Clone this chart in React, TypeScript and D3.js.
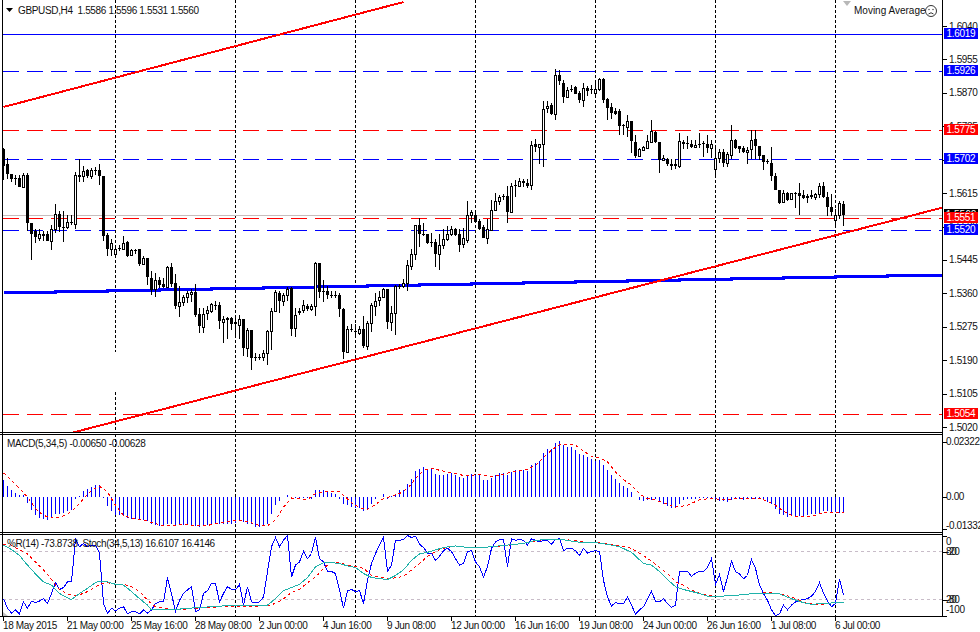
import React from "react";
import * as d3 from "d3";

// Prices are given in 1/10000 units
const opens = [15726,15688,15664,15654,15654,15630,15662,15540,15518,15501,
15511,15512,15493,15523,15563,15530,15528,15542,15536,15658,
15658,15673,15658,15674,15674,15658,15509,15472,15459,15476,
15474,15491,15458,15470,15472,15434,15449,15400,15370,15395,
15383,15376,15428,15387,15328,15338,15350,15359,15364,15308,
15274,15310,15316,15331,15331,15287,15296,15296,15287,15280,
15294,15221,15266,15197,15197,15197,15209,15265,15315,15362,
15340,15356,15374,15272,15315,15317,15328,15320,15328,15436,
15367,15367,15356,15356,15355,15321,15210,15270,15263,15260,
15270,15227,15285,15327,15343,15351,15370,15287,15311,15378,
15378,15386,15429,15460,15533,15512,15510,15491,15490,15460,
15483,15497,15511,15523,15510,15485,15496,15560,15560,15543,
15529,15502,15521,15572,15595,15607,15607,15568,15636,15633,
15646,15641,15636,15739,15733,15740,15831,15838,15816,15916,
15896,15859,15881,15884,15869,15852,15883,15880,15869,15881,
15904,15855,15833,15823,15823,15787,15784,15798,15746,15709,
15725,15730,15746,15770,15745,15700,15702,15690,15688,15685,
15746,15743,15740,15732,15741,15743,15739,15729,15676,15703,
15720,15692,15713,15751,15735,15729,15719,15726,15753,15736,
15713,15696,15692,15659,15624,15593,15616,15599,15616,15616,
15609,15607,15609,15604,15612,15634,15606,15580,15546,15558,15586];
const highs = [15729,15705,15664,15660,15662,15667,15667,15540,15523,15523,
15518,15518,15535,15586,15569,15569,15558,15558,15668,15701,
15684,15677,15679,15681,15688,15658,15514,15497,15480,15482,
15506,15493,15472,15473,15473,15456,15451,15417,15412,15401,
15400,15429,15436,15408,15378,15357,15366,15372,15385,15323,
15323,15329,15336,15340,15338,15302,15300,15300,15304,15304,
15295,15272,15266,15207,15205,15217,15267,15323,15368,15366,
15361,15377,15376,15323,15323,15343,15332,15334,15440,15438,
15395,15378,15366,15366,15361,15323,15277,15281,15281,15277,
15302,15289,15336,15361,15366,15374,15372,15327,15380,15385,
15397,15444,15472,15535,15551,15538,15510,15514,15497,15512,
15523,15531,15531,15527,15524,15527,15596,15572,15572,15548,
15535,15550,15597,15614,15609,15612,15633,15640,15648,15654,
15650,15650,15748,15753,15741,15848,15849,15845,15930,15928,
15902,15885,15891,15887,15874,15894,15887,15891,15894,15908,
15908,15857,15843,15832,15828,15790,15813,15798,15764,15730,
15736,15762,15802,15773,15745,15711,15705,15701,15701,15768,
15751,15760,15749,15751,15767,15748,15762,15749,15730,15726,
15726,15719,15787,15753,15736,15735,15733,15775,15775,15736,
15713,15702,15733,15667,15624,15623,15618,15616,15618,15640,
15623,15612,15624,15616,15640,15643,15618,15612,15575,15595,15596];
const lows = [15648,15651,15643,15635,15630,15629,15518,15445,15487,15493,
15493,15492,15470,15514,15516,15490,15524,15535,15524,15643,
15643,15654,15652,15660,15635,15493,15456,15456,15455,15467,
15470,15453,15456,15459,15429,15431,15380,15357,15351,15374,
15374,15374,15377,15319,15300,15328,15336,15338,15300,15260,
15258,15291,15311,15317,15270,15233,15243,15268,15253,15244,
15200,15197,15166,15189,15190,15187,15177,15216,15312,15311,
15328,15340,15251,15250,15306,15309,15315,15315,15302,15349,
15338,15345,15349,15349,15299,15192,15209,15261,15247,15255,
15221,15217,15261,15302,15329,15349,15270,15264,15253,15370,
15374,15366,15419,15445,15478,15506,15486,15478,15428,15419,
15472,15493,15506,15506,15465,15476,15487,15540,15540,15522,
15500,15486,15518,15572,15584,15597,15538,15565,15606,15631,
15631,15629,15623,15719,15690,15681,15818,15813,15802,15889,
15843,15859,15872,15866,15843,15834,15863,15866,15862,15874,
15845,15802,15804,15813,15764,15762,15758,15718,15705,15707,
15724,15728,15743,15743,15665,15696,15685,15673,15677,15679,
15728,15726,15730,15730,15730,15707,15718,15705,15657,15692,
15682,15682,15701,15726,15716,15716,15690,15701,15702,15699,
15673,15690,15645,15623,15586,15590,15595,15597,15578,15560,
15600,15589,15599,15597,15603,15603,15556,15556,15533,15548,15531];
const closes = [15684,15664,15650,15651,15631,15662,15538,15512,15503,15512,
15512,15493,15524,15562,15530,15527,15542,15539,15662,15660,
15672,15658,15673,15671,15658,15507,15472,15489,15473,15473,
15489,15456,15470,15467,15434,15451,15401,15368,15394,15380,
15376,15428,15385,15328,15339,15351,15360,15364,15306,15277,
15308,15317,15332,15328,15289,15294,15293,15283,15282,15294,
15221,15266,15195,15195,15195,15209,15263,15316,15363,15340,
15356,15372,15270,15304,15311,15331,15319,15328,15438,15363,
15365,15356,15355,15354,15321,15210,15270,15266,15261,15270,
15227,15285,15330,15341,15351,15370,15287,15311,15378,15376,
15387,15433,15461,15533,15511,15510,15487,15487,15460,15482,
15499,15510,15524,15508,15483,15502,15560,15566,15541,15524,
15502,15524,15573,15595,15606,15604,15568,15634,15633,15646,
15641,15633,15738,15732,15739,15829,15837,15816,15916,15899,
15859,15877,15880,15867,15852,15883,15874,15878,15880,15904,
15853,15831,15818,15817,15785,15785,15799,15747,15709,15726,
15731,15747,15772,15745,15699,15705,15690,15684,15684,15748,
15740,15740,15732,15738,15737,15740,15729,15741,15705,15720,
15692,15714,15749,15729,15728,15719,15725,15751,15734,15709,
15695,15694,15658,15624,15590,15616,15597,15614,15613,15607,
15602,15602,15606,15613,15634,15606,15579,15567,15558,15589,15560];

const priceTicks = [1.604,1.5955,1.587,1.5785,1.57,1.5615,1.553,1.5445,1.536,1.5275,1.519,1.5105,1.502];
const solidLevels = [1.6019];
const blueLevels = [1.5926, 1.5702, 1.552];
const redLevels = [1.5775, 1.5551, 1.5054];
const bidPrice = 1.556;
const maSteps = [1.53626,1.53644,1.53669,1.53694,1.5372,1.53745,1.53771,1.53796,1.53821,1.53847,1.53872,1.53898,1.53923,1.53961,1.53974,1.53999,1.54025,1.5405];
const upperTrend: [number, number][] = [[0, 1.5834], [100, 1.6101]];
const lowerTrend: [number, number][] = [[14.7, 1.4999], [234.7, 1.5578]];

const macdHist = [.0070,.0045,.0031,.0018,.0007,.0007,-.0025,-.0056,-.0077,-.0087,
-.0091,-.0095,-.0087,-.0070,-.0070,-.0067,-.0060,-.0056,-.0010,.0006,
.0025,.0035,.0042,.0049,.0049,-.0003,-.0039,-.0060,-.0074,-.0077,
-.0081,-.0087,-.0091,-.0091,-.0095,-.0098,-.0102,-.0115,-.0116,-.0122,
-.0123,-.0112,-.0112,-.0116,-.0119,-.0119,-.0119,-.0116,-.0123,-.0126,
-.0123,-.0119,-.0116,-.0112,-.0112,-.0115,-.0112,-.0112,-.0109,-.0101,
-.0105,-.0112,-.0112,-.0126,-.0126,-.0123,-.0112,-.0070,-.0035,-.0018,
0,.0007,-.0007,-.0004,-.0003,-.0004,-.0004,-.0007,.0028,.0028,.0028,.0025,
.0018,.0014,-.0007,-.0031,-.0035,-.0042,-.0045,-.0045,-.0059,-.0049,
-.0028,-.0007,0,.0014,-.0007,.0003,.0014,.0028,.0031,.0053,
.0077,.0109,.0119,.0126,.0112,.0119,.0095,.0091,.0091,.0098,
.0101,.0091,.0084,.0080,.0087,.0098,.0091,.0095,.0073,.0070,
.0080,.0091,.0101,.0101,.0094,.0105,.0112,.0115,.0112,.0109,
.0133,.0143,.0151,.0182,.0200,.0200,.0224,.0234,.0217,.0210,
.0210,.0196,.0179,.0175,.0168,.0161,.0151,.0154,.0133,.0112,
.0091,.0077,.0059,.0045,.0039,.0021,0,-.0014,-.0017,-.0011,
-.0011,-.0007,-.0018,-.0031,-.0039,-.0045,-.0045,-.0031,-.0014,-.0008,
-.0007,-.0007,-.0003,-.0003,-.0004,-.0007,-.0007,-.0017,-.0018,-.0021,
-.0011,-.0007,-.0007,-.0011,-.0007,-.0007,-.0007,-.0010,-.0011,-.0021,
-.0031,-.0052,-.0070,-.0077,-.0084,-.0081,-.0081,-.0081,-.0078,-.0077,
-.0070,-.0070,-.0066,-.0060,-.0060,-.0063,-.0063,-.0067,-.0065];
const macdSignal: [number, number][] = [[0,.0101],[2,.0070],[4,.0035],[6,0],[8,-.0049],[10,-.0077],[12,-.0087],[14,-.0084],[16,-.0073],[18,-.0045],[20,-.0007],[22,.0028],[24,.0045],[26,.0021],[28,-.0035],[30,-.0077],[32,-.0088],[34,-.0094],[36,-.0101],[38,-.0112],[40,-.0119],[42,-.0119],[45,-.0116],[48,-.0119],[51,-.0119],[54,-.0108],[56,-.0102],[59,-.0098],[61,-.0102],[64,-.0119],[66,-.0120],[68,-.0095],[70,-.0042],[72,-.0004],[74,-.0007],[76,-.0010],[78,.0014],[81,.0025],
[82,.0025],[84,.0024],[85,.0007],[87,-.0024],[89,-.0045],[91,-.0052],[93,-.0031],[95,-.0007],[97,.0003],[99,.0014],[101,.0035],[103,.0077],[105,.0112],[107,.0119],[109,.0112],[111,.0105],[113,.0098],[115,.0090],[117,.0091],[119,.0094],[121,.0087],[123,.0087],[125,.0095],[127,.0104],[129,.0109],[131,.0115],[133,.0133],[135,.0165],[137,.0196],[139,.0220],[141,.0221],[143,.0217],[145,.0192],[147,.0171],[149,.0165],[151,.0147],[153,.0105],[155,.0073],[157,.0049],[159,.0014],[161,-.0007],
[162,-.0007],[165,-.0024],[168,-.0042],[171,-.0035],[174,-.0011],[177,-.0006],[180,-.0011],[183,-.0008],[186,-.0007],[189,-.0006],[191,-.0017],[193,-.0035],[195,-.0060],[197,-.0077],[199,-.0084],[201,-.0081],[203,-.0076],[205,-.0064],[207,-.0063],[209,-.0067],[210,-.0063]];

const wpr = [-79,-91,-97,-93,-98,-83,-91,-82,-84,-82,-79,-85,-72.5,-59,-67.5,-65,-58,-58,-4,-14,-10,-14,-12,-12,-22,-85,-97.5,-91,-94,-91,-89,-98,-95,-95,-98,-93,-97,-93,-85,-83,-83,-52.5,-73,-95,-81,-72.5,-68,-64,-95,-93,-72.5,-69,-60,-60,-83,-72.5,-64,-67.5,-68,-61,-87,-64,-83,-84,-83,-77,-45,-14,-2.5,-14,-6,0,-52,-37,-33,-20,-29,-22.5,-2.5,-29,-33,-45,
-45,-47.5,-68,-91,-69,-67.5,-70,-69,-85,-56,-35,-22.5,-12,-2.5,-45,-37,-6,-6,-5,0,-2.5,-1,-11,-15,-22,-22.5,-31,-26,-19,-16,-20,-29,-37,-35,-20,-19,-33,-39,-52,-39,-16,-8,-5,-5,-39,-4,-6,-5,-6,-12,-4,-6,-8,-6,-6,-11,-5,-4,-19,-16,-16,-19,-25,-16,-22,-20,-19,-20,-56,-77,-88,-84,-85,-85,-77,-87,-98,-93,-89,-79,
-70,-82,-83,-79,-85,-90,-87,-45,-45,-45,-51,-47,-45,-45,-40,-29,-61,-49,-70,-52,-32,-45,-48,-54,-50,-30,-41,-62,-72.5,-81,-93,-100,-98,-87,-93,-87,-83,-81,-80,-79,-76,-70,-59,-72,-82,-89,-85,-55,-73.87];
const stochMain: [number, number][] = [[0,88],[2,82.5],[4,75],[6,63],[8,52],[10,42],[12,38],[14,27.5],[16,22],[17,20],[19,27.5],[21,34],[23,41],[24,43],[26,42],[28,39],[30,38],[32,30],[34,21],[36,13],[37,7],[40,7.5],[43,7.5],[46,9],[49,10],[52,11],[55,12],[58,12],[61,12],[64,12],[66,13],[68,21],[70,31],[72,35],[74,39],[76,47.5],[78,61],[80,66],[81,66],
[82,66],[84,65],[86,62],[88,60],[90,52.5],[92,47.5],[94,46],[96,45],[98,50],[100,57],[102,69],[104,77],[106,79],[108,82],[110,85],[113,87],[116,85],[119,84.5],[122,86],[125,87.5],[128,89],[131,91],[133,94],[136,95],[139,95.5],[142,93],[145,91],[148,91],[151,89],[154,86],[157,79],[160,65],[162,63],[164,55],[166,45],[168,36],[170,32.5],[172,30],[174,27.5],[176,24],[179,24],[182,25],[185,26],[188,28],[191,28],[194,27],[197,21],[200,16],[202,14],[205,15],[208,16],[210,16.6]];
const stochSignal: [number, number][] = [[0,89],[2,88],[4,82],[6,77],[8,67],[10,57],[12,45],[14,32],[16,27],[18,25],[20,27.5],[22,32.5],[24,39],[26,41],[28,39],[30,39],[32,36],[34,30],[36,19],[38,11],[40,9],[43,7.5],[46,8],[49,9.5],[52,10],[55,11],[58,11],[61,11],[64,12],[66,12.5],[68,15],[70,21],[72,29],[74,32.5],[76,41],[78,48],[80,59],[81,63],
[82,66],[84,66],[86,63],[88,61],[90,59],[92,50],[94,48],[96,46],[98,47],[100,49],[102,57],[104,65],[106,74],[108,80],[110,84],[113,87],[116,85],[119,84.5],[122,86],[125,87],[128,89],[131,91],[133,93],[136,95],[139,95.5],[142,94],[145,92],[148,91],[151,90],[154,87],[157,84],[160,75],[162,68],[164,60],[166,52.5],[168,42],[170,38],[172,32],[174,28],[176,25],[179,24],[182,25],[185,26],[188,27.5],[191,29],[194,27.5],[197,23],[200,17],[203,14],[205,14],[208,16],[210,16.4]];

const dateLabels = ["18 May 2015","21 May 00:00","25 May 16:00","28 May 08:00","2 Jun 00:00","4 Jun 16:00","9 Jun 08:00","12 Jun 00:00","16 Jun 16:00","19 Jun 08:00","24 Jun 00:00","26 Jun 16:00","1 Jul 08:00","6 Jul 00:00"];
const gridBars = [28,58,88,118,148,178,208];
const macdTicks = [0.02322, 0, -0.01332];

const W = 980, H = 632;
const AXIS = 942.5;
const x = d3.scaleLinear().domain([0, 210]).range([3.5, 843.5]);
const y = d3.scaleLinear().domain([1.604, 1.502]).range([26, 427]);
const yMacd = d3.scaleLinear().domain([0.02322, 0]).range([441.5, 497]);
const yOsc = d3.scaleLinear().domain([100, 0]).range([535.5, 615.5]);
const font = "'Liberation Sans', Arial, sans-serif";
const BLUE = "#0000ff", RED = "#ff0000", TEAL = "#20b2aa";

const pairLine = (ys: d3.ScaleLinear<number, number>) =>
  d3.line<[number, number]>().x((d) => x(d[0])).y((d) => ys(d[1]));

const Label = (p: any) => (
  <text fontFamily={font} fontSize={10} letterSpacing={-0.35} fill="#111" style={{ whiteSpace: "pre" }} {...p} />
);

const PriceTag = ({ price, color }: { price: number; color: string }) => {
  const py = Math.round(y(price));
  return (
    <g>
      <rect x={944} y={py - 6} width={34} height={11} fill={color} />
      <text x={961} y={py + 3} textAnchor="middle" fontFamily={font} fontSize={10} letterSpacing={-0.3} fill="#fff">
        {price.toFixed(4)}
      </text>
    </g>
  );
};

export default function App() {
  const maPts: [number, number][] = maSteps.map((v, k) => [k * 13, v]);
  maPts.push([234.7, maSteps[maSteps.length - 1]]);
  const maLine = d3.line<[number, number]>().x((d) => x(d[0])).y((d) => y(d[1])).curve(d3.curveStepAfter);
  const priceLine = d3.line<[number, number]>().x((d) => x(d[0])).y((d) => y(d[1]));

  return (
    <svg width={W} height={H} style={{ position: "absolute", left: 0, top: 0, background: "#fff" }}>
      <defs>
        <clipPath id="main"><rect x={3} y={0} width={AXIS - 3} height={432} /></clipPath>
      </defs>

      {/* vertical grid */}
      {gridBars.map((b) => (
        <g key={b} stroke="#000" strokeDasharray="3 2" shapeRendering="crispEdges">
          {b === 28 ? (
            <>
              <line x1={x(b)} x2={x(b)} y1={0} y2={352} />
              <line x1={x(b)} x2={x(b)} y1={392} y2={432} />
            </>
          ) : (
            <line x1={x(b)} x2={x(b)} y1={0} y2={432} />
          )}
          <line x1={x(b)} x2={x(b)} y1={434} y2={532} />
          <line x1={x(b)} x2={x(b)} y1={535} y2={616} />
        </g>
      ))}

      {/* horizontal levels */}
      <line x1={3} x2={AXIS} y1={Math.round(y(bidPrice)) + 0.5} y2={Math.round(y(bidPrice)) + 0.5} stroke="#c8bcbc" shapeRendering="crispEdges" />
      {solidLevels.map((v) => (
        <line key={v} x1={3} x2={AXIS} y1={Math.round(y(v)) + 0.5} y2={Math.round(y(v)) + 0.5} stroke={BLUE} shapeRendering="crispEdges" />
      ))}
      {blueLevels.map((v) => (
        <line key={v} x1={3} x2={AXIS} y1={Math.round(y(v)) + 0.5} y2={Math.round(y(v)) + 0.5} stroke={BLUE} strokeDasharray="16 8" shapeRendering="crispEdges" />
      ))}
      {redLevels.map((v) => (
        <line key={v} x1={3} x2={AXIS} y1={Math.round(y(v)) + 0.5} y2={Math.round(y(v)) + 0.5} stroke={RED} strokeDasharray="16 8" shapeRendering="crispEdges" />
      ))}

      {/* MA + trend lines */}
      <g clipPath="url(#main)" fill="none" shapeRendering="crispEdges">
        <path d={maLine(maPts) as string} stroke={BLUE} strokeWidth={3} />
        <path d={priceLine(upperTrend) as string} stroke={RED} strokeWidth={2} />
        <path d={priceLine(lowerTrend) as string} stroke={RED} strokeWidth={2} />
      </g>

      {/* candles */}
      <g clipPath="url(#main)" shapeRendering="crispEdges">
        {opens.map((o, i) => {
          const c = closes[i];
          const cx = x(i);
          const yo = y(o / 10000), yc = y(c / 10000);
          const top = Math.round(Math.min(yo, yc));
          const bot = Math.round(Math.max(yo, yc));
          const up = c >= o;
          return (
            <g key={i}>
              <line x1={cx} x2={cx} y1={Math.round(y(highs[i] / 10000))} y2={Math.round(y(lows[i] / 10000))} stroke="#000" />
              {up ? (
                <rect x={cx - 1} y={top + 0.5} width={2} height={Math.max(bot - top, 1)} fill="#fff" stroke="#000" />
              ) : (
                <rect x={cx - 1.5} y={top} width={3} height={Math.max(bot - top, 1)} fill="#000" />
              )}
            </g>
          );
        })}
      </g>

      {/* MACD */}
      <g shapeRendering="crispEdges">
        {macdHist.map((v, i) => (
          <line key={i} x1={x(i)} x2={x(i)} y1={yMacd(0)} y2={yMacd(v)} stroke={BLUE} />
        ))}
      </g>
      <path d={pairLine(yMacd)(macdSignal) as string} fill="none" stroke={RED} strokeDasharray="3 3" shapeRendering="crispEdges" />

      {/* Oscillators */}
      <line x1={3} x2={AXIS} y1={551.5} y2={551.5} stroke="#c8bcc8" strokeDasharray="3 3" shapeRendering="crispEdges" />
      <line x1={3} x2={AXIS} y1={599.5} y2={599.5} stroke="#c8bcc8" strokeDasharray="3 3" shapeRendering="crispEdges" />
      <path d={d3.line<number>().x((_, i) => x(i)).y((v) => yOsc(v + 100))(wpr) as string} fill="none" stroke={BLUE} shapeRendering="crispEdges" />
      <path d={pairLine(yOsc)(stochSignal) as string} fill="none" stroke={RED} strokeDasharray="3 3" shapeRendering="crispEdges" />
      <path d={pairLine(yOsc)(stochMain) as string} fill="none" stroke={TEAL} shapeRendering="crispEdges" />

      {/* frames */}
      <g stroke="#000" shapeRendering="crispEdges">
        <line x1={0} x2={AXIS} y1={432.5} y2={432.5} />
        <line x1={0} x2={AXIS} y1={434.5} y2={434.5} />
        <line x1={0} x2={AXIS} y1={532.5} y2={532.5} />
        <line x1={0} x2={AXIS} y1={534.5} y2={534.5} />
        <line x1={0} x2={AXIS} y1={616.5} y2={616.5} />
        <line x1={2.5} x2={2.5} y1={0} y2={617} />
        <line x1={AXIS} x2={AXIS} y1={0} y2={617} />
        {priceTicks.map((t) => (
          <line key={t} x1={AXIS} x2={947} y1={Math.round(y(t)) + 0.5} y2={Math.round(y(t)) + 0.5} />
        ))}
        {macdTicks.map((t) => (
          <line key={t} x1={AXIS} x2={947} y1={Math.round(yMacd(t)) + 0.5} y2={Math.round(yMacd(t)) + 0.5} />
        ))}
        {[0, 20, 80, 100].map((t) => (
          <line key={t} x1={AXIS} x2={947} y1={Math.round(yOsc(t)) + 0.5} y2={Math.round(yOsc(t)) + 0.5} />
        ))}
        {dateLabels.map((_, k) => (
          <line key={k} x1={x(k * 16)} x2={x(k * 16)} y1={617} y2={621} />
        ))}
      </g>

      {/* axis labels */}
      {priceTicks.map((t) => (
        <Label key={t} x={949} y={y(t) + 3.5}>{t.toFixed(4)}</Label>
      ))}
      {macdTicks.map((t, k) => (
        <Label key={t} x={946} y={yMacd(t) + 3.5 - (k === 2 ? 3 : 0) - (k === 1 ? 0.5 : 0)}>{t === 0 ? "0.00" : t.toFixed(5)}</Label>
      ))}
      <Label x={946} y={544.5}>0</Label>
      <Label x={946} y={554.5}>80</Label>
      <Label x={946} y={554.5}>-20</Label>
      <Label x={946} y={603}>20</Label>
      <Label x={946} y={603}>-80</Label>
      <Label x={946} y={613}>-100</Label>
      {dateLabels.map((d, k) => (
        <Label key={d} x={x(k * 16) - 0.5} y={629}>{d}</Label>
      ))}

      {/* tags */}
      <g>
        <rect x={944} y={209} width={34} height={11} fill="#000" />
        <text x={961} y={218} textAnchor="middle" fontFamily={font} fontSize={10} fill="#fff">1.5560</text>
      </g>
      {[...solidLevels, ...blueLevels].map((v) => <PriceTag key={v} price={v} color={BLUE} />)}
      {redLevels.map((v) => <PriceTag key={v} price={v} color={RED} />)}
      <PriceTag price={1.552} color={BLUE} />

      {/* legends */}
      <path d="M6 8 H13 L9.5 12 Z" fill="#000" />
      <Label x={18} y={13.5} letterSpacing={-0.35}>{"GBPUSD,H4  1.5586 1.5596 1.5531 1.5560"}</Label>
      <Label x={7} y={447} letterSpacing={-0.33}>MACD(5,34,5) -0.00650 -0.00628</Label>
      <Label x={7} y={547} letterSpacing={-0.37}>{"%R(14) -73.8738  Stoch(34,5,13) 16.6107 16.4146"}</Label>
      <Label x={854} y={14} letterSpacing={0}>Moving Average</Label>
      <circle cx={931} cy={11} r={5.5} fill="none" stroke="#333" />
      <circle cx={929} cy={9.5} r={0.7} fill="#333" />
      <circle cx={933} cy={9.5} r={0.7} fill="#333" />
      <path d="M928.5 14 Q931 11.5 933.5 14" fill="none" stroke="#333" />
      <path d="M843 1 H851 L847 6 Z" fill="#b8b8b8" />
      <path d="M3 616 L3 612 L8 616 Z" fill="#c0c0c0" />
    </svg>
  );
}
